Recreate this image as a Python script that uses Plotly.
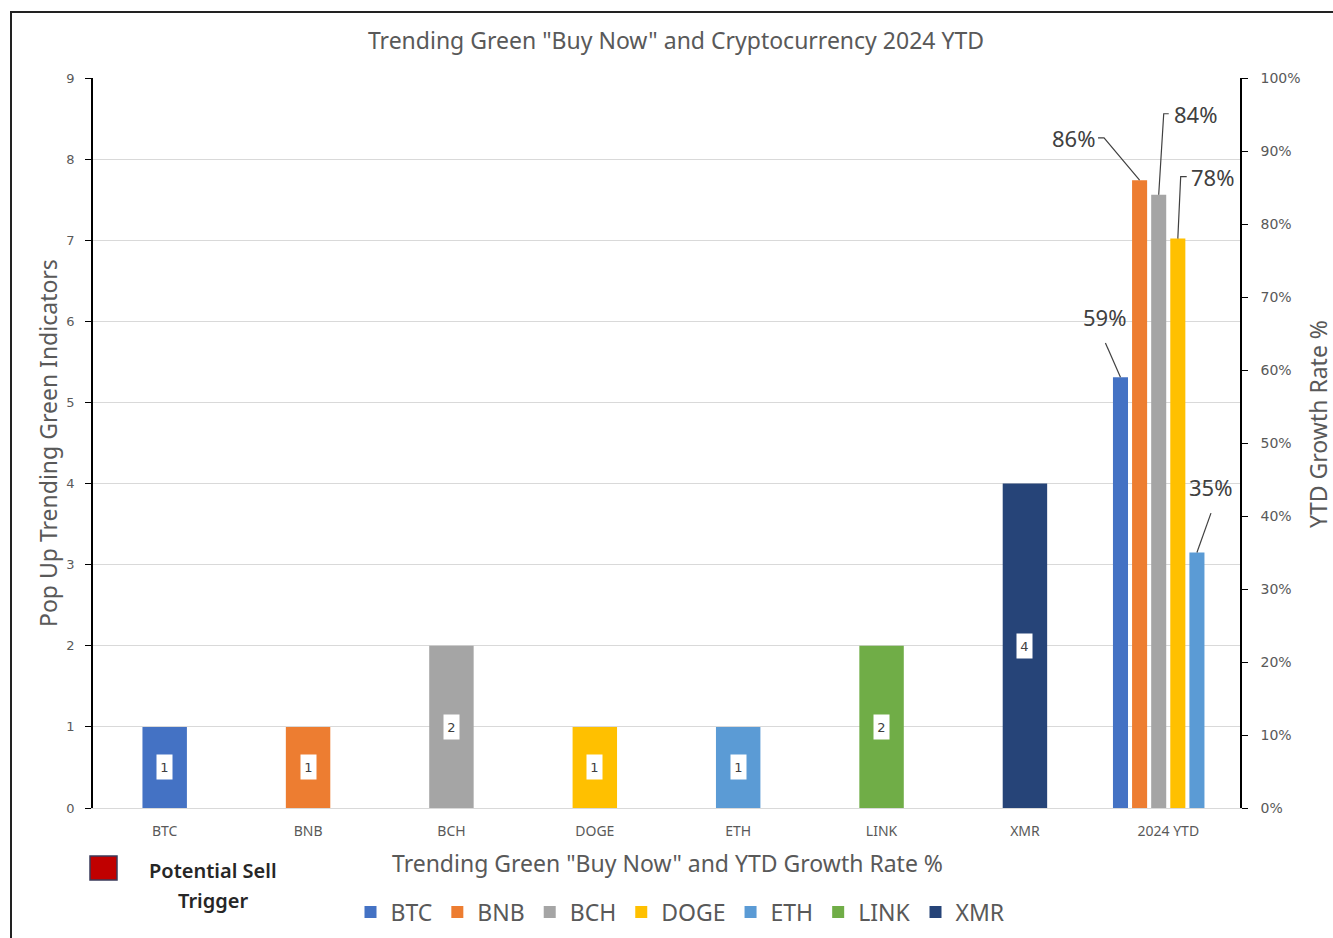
import plotly.graph_objects as go

coins = ["BTC", "BNB", "BCH", "DOGE", "ETH", "LINK", "XMR"]
categories = ["BTC", "BNB", "BCH", "DOGE", "ETH", "LINK", "XMR", "2024 YTD"]
indicator_counts = [1, 1, 2, 1, 1, 2, 4]
ytd_coins = ["BTC", "BNB", "BCH", "DOGE", "ETH"]
ytd_growth = [0.59, 0.86, 0.84, 0.78, 0.35]
colors = {"BTC": "#4472C4", "BNB": "#ED7D31", "BCH": "#A5A5A5", "DOGE": "#FFC000",
          "ETH": "#5B9BD5", "LINK": "#70AD47", "XMR": "#264478"}

FONT = "Noto Sans"
TICKFONT = "DejaVu Sans"
GRAY = "#595959"
DARK = "#404040"

# layout geometry (pixels)
W, H = 1333, 938
ML, MR, MT, MB = 93, 93, 78, 130
PW, PH = W - ML - MR, H - MT - MB


def px_x(p):
    return (p - ML) / PW


def px_y(p):
    return (H - MB - p) / PH


fig = go.Figure()

# single-category bars (left axis)
for i, c in enumerate(coins):
    fig.add_trace(go.Bar(
        x=[i], y=[indicator_counts[i]], name=c, width=0.31,
        marker=dict(color=colors[c], line=dict(width=0)),
        legendgroup=c, xaxis="x", yaxis="y", hoverinfo="skip"))

# 2024 YTD group (right axis)
ytd_pos = 7
step = 0.1333
bar_w = 0.105
ytd_x = {}
for j, c in enumerate(ytd_coins):
    xc = ytd_pos - 0.067 + (j - 2) * step
    ytd_x[c] = xc
    fig.add_trace(go.Bar(
        x=[xc], y=[ytd_growth[j]], name=c, width=bar_w,
        marker=dict(color=colors[c], line=dict(width=0)),
        legendgroup=c, showlegend=False, xaxis="x", yaxis="y2", hoverinfo="skip"))

annotations = []
# count labels inside bars
for i, c in enumerate(coins):
    v = indicator_counts[i]
    annotations.append(dict(
        x=i, y=v / 2, xref="x", yref="y", text=str(v), showarrow=False,
        bgcolor="white", width=15, height=24, borderpad=0,
        font=dict(family=TICKFONT, size=13, color=DARK)))

# leader lines: (dx, dy) of elbow / end relative to bar top, in axis units
leaders = {
    "BTC": dict(pts=[(0, 0), (-0.105, 0.047)], text=(-0.11, 0.06), anchor=("center", "bottom")),
    "BNB": dict(pts=[(0, 0), (-0.248, 0.058), (-0.29, 0.058)], text=(-0.30, 0.058), anchor=("right", "middle")),
    "BCH": dict(pts=[(0, 0), (0.035, 0.111), (0.07, 0.111)], text=(0.09, 0.111), anchor=("left", "middle")),
    "DOGE": dict(pts=[(0, 0), (0.02, 0.085), (0.062, 0.085)], text=(0.08, 0.085), anchor=("left", "middle")),
    "ETH": dict(pts=[(0, 0), (0.098, 0.054)], text=(0.095, 0.066), anchor=("center", "bottom")),
}
for j, c in enumerate(ytd_coins):
    bx, by = ytd_x[c], ytd_growth[j]
    L = leaders[c]
    fig.add_trace(go.Scatter(
        x=[bx + dx for dx, dy in L["pts"]], y=[by + dy for dx, dy in L["pts"]],
        mode="lines", line=dict(color=DARK, width=1.2), showlegend=False,
        xaxis="x", yaxis="y2", hoverinfo="skip"))
    annotations.append(dict(
        x=bx + L["text"][0], y=by + L["text"][1], xref="x", yref="y2",
        text=f"{round(ytd_growth[j] * 100)}%", showarrow=False,
        xanchor=L["anchor"][0], yanchor=L["anchor"][1],
        font=dict(family=FONT, size=22, color=DARK)))

# axis titles and side note
annotations += [
    dict(x=px_x(48), y=px_y(443), xref="paper", yref="paper", text="Pop Up Trending Green Indicators",
         textangle=-90, showarrow=False, xanchor="center", yanchor="middle",
         font=dict(family=FONT, size=23, color=GRAY)),
    dict(x=px_x(1318), y=px_y(424), xref="paper", yref="paper", text="YTD Growth Rate %",
         textangle=-90, showarrow=False, xanchor="center", yanchor="middle",
         font=dict(family=FONT, size=23, color=GRAY)),
    dict(x=px_x(667), y=px_y(863), xref="paper", yref="paper",
         text='Trending Green "Buy Now" and YTD Growth Rate %',
         showarrow=False, xanchor="center", yanchor="middle",
         font=dict(family=FONT, size=23, color=GRAY)),
    dict(x=px_x(213), y=px_y(870), xref="paper", yref="paper", text="Potential Sell",
         showarrow=False, xanchor="center", yanchor="middle",
         font=dict(family=FONT, size=20, color="#262626", weight=600)),
    dict(x=px_x(213), y=px_y(900), xref="paper", yref="paper", text="Trigger",
         showarrow=False, xanchor="center", yanchor="middle",
         font=dict(family=FONT, size=20, color="#262626", weight=600)),
]

shapes = [
    dict(type="rect", xref="paper", yref="paper",
         x0=px_x(90), x1=px_x(117), y0=px_y(880), y1=px_y(856),
         fillcolor="#C00000", line=dict(color="#3A3A5A", width=1.5)),
    dict(type="rect", xref="paper", yref="paper",
         x0=px_x(11), x1=px_x(1350), y0=px_y(960), y1=px_y(12),
         fillcolor="rgba(0,0,0,0)", line=dict(color="#222222", width=2)),
]

fig.update_layout(
    width=W, height=H,
    margin=dict(l=ML, r=MR, t=MT, b=MB, autoexpand=False),
    paper_bgcolor="white", plot_bgcolor="white",
    barmode="overlay",
    font=dict(family=FONT, color=GRAY),
    title=dict(text='Trending Green "Buy Now" and Cryptocurrency 2024 YTD',
               x=676 / W, y=1 - 41 / H, xanchor="center", yanchor="middle",
               font=dict(family=FONT, size=23, color=GRAY)),
    xaxis=dict(range=[-0.5, 7.5], tickvals=list(range(len(categories))), ticktext=categories,
               showgrid=False, zeroline=False, showline=True, linecolor="#D9D9D9",
               ticks="", tickfont=dict(family=FONT, size=14, color=GRAY), ticklabelstandoff=10),
    yaxis=dict(range=[0, 9], dtick=1, showgrid=True, gridcolor="#D9D9D9", zeroline=False,
               showline=True, linecolor="black", linewidth=1.5, ticks="outside", ticklen=6,
               tickcolor="black", tickfont=dict(family=TICKFONT, size=13, color=GRAY),
               ticklabelstandoff=8),
    yaxis2=dict(range=[0, 1], dtick=0.1, tickformat=".0%", overlaying="y", side="right",
                showgrid=False, zeroline=False, showline=True, linecolor="black", linewidth=1.5,
                ticks="outside", ticklen=6, tickcolor="black",
                tickfont=dict(family=TICKFONT, size=14, color=GRAY), ticklabelstandoff=10),
    legend=dict(orientation="h", x=px_x(680), y=px_y(912), xanchor="center", yanchor="middle",
                font=dict(family=FONT, size=23, color=GRAY), itemwidth=30,
                bgcolor="rgba(0,0,0,0)"),
    annotations=annotations,
    shapes=shapes,
    showlegend=True,
)

fig.write_html("out.html", post_script="document.body.style.margin='0px';",
               config={"displayModeBar": False})
